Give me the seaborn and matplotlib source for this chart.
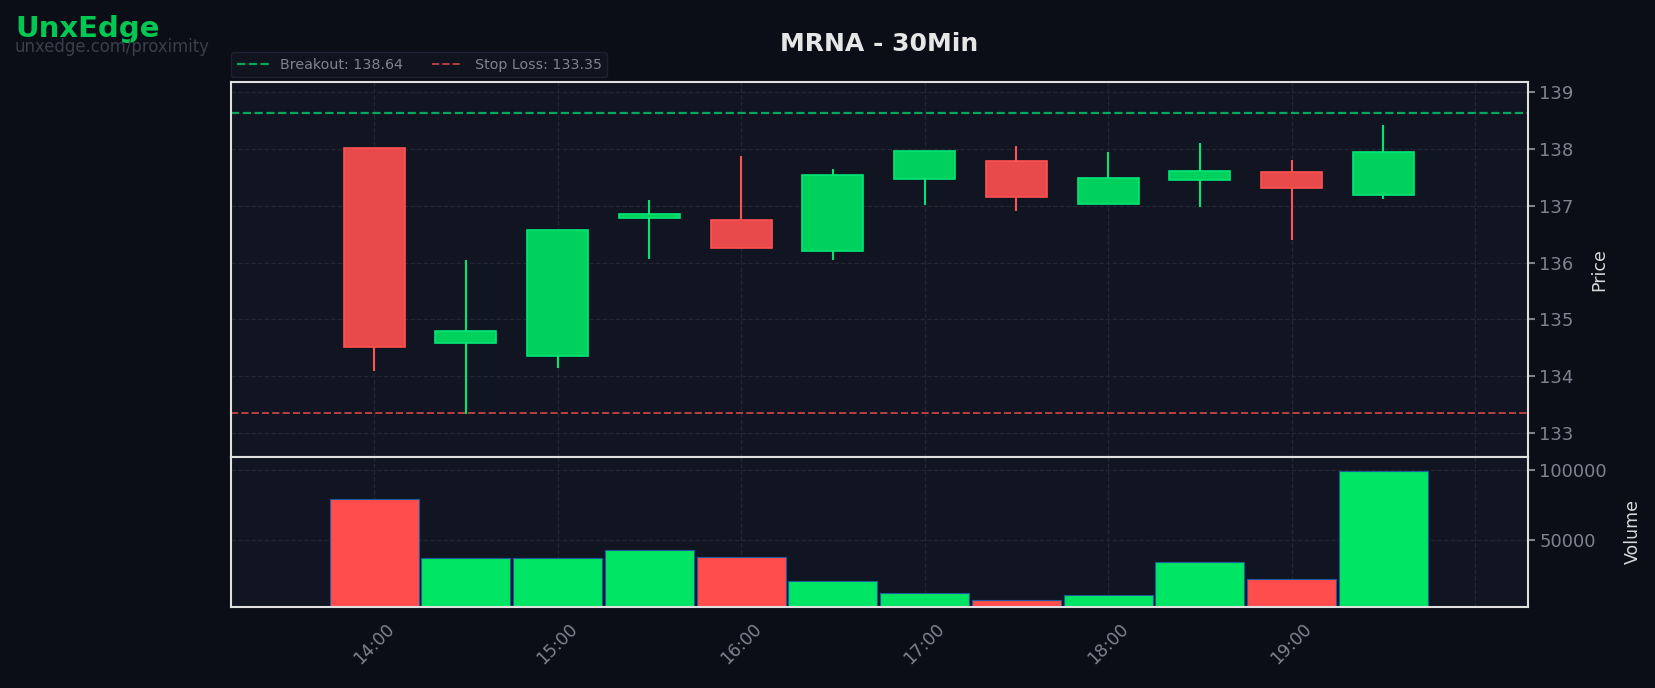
import matplotlib
matplotlib.use("Agg")
import matplotlib.pyplot as plt
import seaborn as sns
import pandas as pd

# 30 minute candles, MRNA
times = ["14:00", "14:30", "15:00", "15:30", "16:00", "16:30",
         "17:00", "17:30", "18:00", "18:30", "19:00", "19:30"]
opens = [138.02, 134.58, 134.35, 136.78, 136.76, 136.21,
         137.48, 137.79, 137.04, 137.46, 137.59, 137.20]
highs = [138.02, 136.05, 136.57, 137.11, 137.88, 137.65,
         137.96, 138.06, 137.95, 138.11, 137.81, 138.43]
lows = [134.09, 133.34, 134.15, 136.06, 136.25, 136.05,
        137.02, 136.91, 137.04, 136.98, 136.40, 137.13]
closes = [134.51, 134.79, 136.57, 136.85, 136.25, 137.54,
          137.96, 137.15, 137.49, 137.61, 137.31, 137.95]
volumes = [79300, 36700, 36600, 42400, 37400, 20300,
           11700, 6700, 10300, 33900, 21700, 98900]

breakout = 138.64
stop_loss = 133.35

tick_hours = [14, 15, 16, 17, 18, 19, 20]
tick_labels = ["14:00", "15:00", "16:00", "17:00", "18:00", "19:00", ""]

UP = "#00e676"
DOWN = "#ff5252"
UP_FILL = "#00d15c"
DOWN_FILL = "#e84a4c"
BG = "#0b0e17"
PANEL = "#111522"
GRID = "#222635"
TXT = "#7d8390"

df = pd.DataFrame({"time": times, "open": opens, "high": highs,
                   "low": lows, "close": closes, "volume": volumes})
df["x"] = [int(t[:2]) + int(t[3:]) / 60 for t in df["time"]]
df["dir"] = ["up" if c >= o else "down" for o, c in zip(df["open"], df["close"])]

sns.set_theme(style="dark", rc={
    "figure.facecolor": BG,
    "axes.facecolor": PANEL,
    "axes.edgecolor": "#e0e0e0",
    "axes.linewidth": 1.5,
    "grid.color": GRID,
    "grid.linestyle": "--",
    "grid.linewidth": 0.9,
    "xtick.color": TXT,
    "ytick.color": TXT,
    "text.color": "#e6e6e6",
    "axes.labelcolor": "#d8d8d8",
})
plt.rcParams["font.family"] = ["DejaVu Sans"]

fig = plt.figure(figsize=(16.55, 6.88), dpi=100)
gs = fig.add_gridspec(2, 1, height_ratios=[2.5, 1], hspace=0,
                      left=0.1396, right=0.923, top=0.8813, bottom=0.1182)
ax = fig.add_subplot(gs[0])
axv = fig.add_subplot(gs[1], sharex=ax)

# candles
body_w = 20 / 60
for _, r in df.iterrows():
    up = r["dir"] == "up"
    col = UP if up else DOWN
    ax.vlines(r["x"], r["low"], r["high"], color=col, lw=1.5, zorder=2)
    lo = min(r["open"], r["close"])
    h = max(abs(r["close"] - r["open"]), 0.02)
    ax.bar(r["x"], h, bottom=lo, width=body_w,
           color=UP_FILL if up else DOWN_FILL,
           edgecolor=col, linewidth=1.2, zorder=3)

ax.axhline(breakout, color=UP, ls="--", lw=1.6, alpha=0.7,
           label=f"Breakout: {breakout:.2f}")
ax.axhline(stop_loss, color=DOWN, ls="--", lw=1.4, alpha=0.7,
           label=f"Stop Loss: {stop_loss:.2f}")

ax.set_ylim(132.58, 139.19)
ax.yaxis.tick_right()
ax.yaxis.set_label_position("right")
ax.set_ylabel("Price", fontsize=12.5, labelpad=12)
ax.grid(True, axis="both")
ax.tick_params(axis="y", labelsize=13, length=5, width=1.5, colors=TXT)
ax.tick_params(axis="x", labelbottom=False, length=0)

leg = ax.legend(loc="lower left", bbox_to_anchor=(-0.003, 1.0), ncol=2,
                fontsize=10.3, frameon=True, borderaxespad=0.3,
                handlelength=2.2, columnspacing=2.0)
leg.get_frame().set_facecolor("#121620")
leg.get_frame().set_edgecolor("#22273a")
for t in leg.get_texts():
    t.set_color(TXT)

# volume
sns.barplot(data=df, x="x", y="volume", hue="dir", native_scale=True,
            palette={"up": "#00e664", "down": "#ff4d4d"}, dodge=False,
            width=0.97, saturation=1, errorbar=None, legend=False,
            edgecolor="#1f5a9a", linewidth=0.8, ax=axv)
axv.set_ylim(2000, 109300)
axv.set_yticks([50000, 100000])
axv.yaxis.tick_right()
axv.yaxis.set_label_position("right")
axv.set_ylabel("Volume", fontsize=12.5, labelpad=12)
axv.set_xlabel("")
axv.grid(True, axis="both")
axv.tick_params(axis="y", labelsize=13, length=5, width=1.5, colors=TXT)

axv.set_xlim(13.22, 20.286)
axv.set_xticks(tick_hours)
axv.set_xticklabels(tick_labels, rotation=45, ha="center", fontsize=12.5)
axv.tick_params(axis="x", length=6, width=1.5, colors=TXT)

fig.text(0.5312, 0.936, "MRNA - 30Min", ha="center", va="center",
         fontsize=18, fontweight="bold", color="#e6e6e6")
fig.text(0.009, 0.958, "UnxEdge", ha="left", va="center",
         fontsize=21, fontweight="bold", color="#00c853")
fig.text(0.009, 0.931, "unxedge.com/proximity", ha="left", va="center",
         fontsize=11.9, color="#3a3f4b")

fig.savefig("out.png", dpi=100, facecolor=BG)
